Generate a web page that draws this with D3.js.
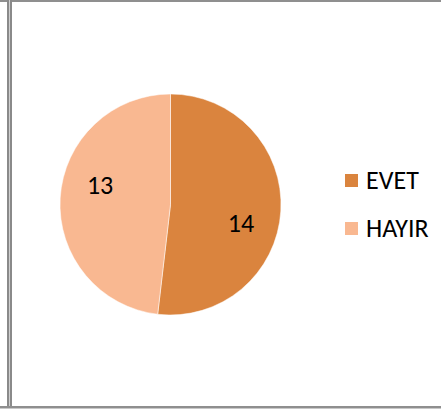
<!DOCTYPE html>
<html><head><meta charset="utf-8">
<script src="https://cdn.jsdelivr.net/npm/d3@7"></script>
<style>html,body{margin:0;padding:0;background:#fff;}svg{display:block;}</style>
</head><body>
<svg id="c" width="441" height="409"></svg>
<script>
const categories = ["EVET", "HAYIR"];
const values = [14, 13];
const colors = ["#DA843E", "#F9B891"];

const svg = d3.select("#c");
const W = 441, H = 409;
svg.append("rect").attr("width", W).attr("height", H).attr("fill", "#fff");

// frame lines
svg.append("rect").attr("x", 0).attr("y", 0).attr("width", W).attr("height", 2).attr("fill", "#8f8f8f");
svg.append("rect").attr("x", 7).attr("y", 0).attr("width", 2).attr("height", H).attr("fill", "#8a8a8a");
svg.append("rect").attr("x", 9).attr("y", 0).attr("width", 1).attr("height", H).attr("fill", "#cfcfcf");
svg.append("rect").attr("x", 10).attr("y", 0).attr("width", 2).attr("height", H).attr("fill", "#8a8a8a");
svg.append("rect").attr("x", 0).attr("y", 406).attr("width", W).attr("height", 2).attr("fill", "#8f8f8f");
svg.append("rect").attr("x", 0).attr("y", 408).attr("width", W).attr("height", 1).attr("fill", "#c8c8c8");

const cx = 170.5, cy = 204.5, r = 110.5;
const pie = d3.pie().sort(null).value(d => d)(values);
const arc = d3.arc().innerRadius(0).outerRadius(r);
const color = d3.scaleOrdinal().domain(categories).range(colors);

const g = svg.append("g").attr("transform", `translate(${cx},${cy})`);
g.selectAll("path").data(pie).join("path")
  .attr("d", arc)
  .attr("fill", (d, i) => color(categories[i]))
  .attr("stroke", "#fff").attr("stroke-width", 0.5);

const font = "Carlito, 'Liberation Sans', Arial, sans-serif";
const labelR = 73, labelShift = 12 * Math.PI / 180;
g.selectAll("text.lbl").data(pie).join("text")
  .attr("class", "lbl")
  .attr("x", d => labelR * Math.sin((d.startAngle + d.endAngle) / 2 + labelShift))
  .attr("y", d => -labelR * Math.cos((d.startAngle + d.endAngle) / 2 + labelShift) + 8.5)
  .attr("text-anchor", "middle")
  .attr("font-family", font)
  .attr("font-size", 26)
  .attr("fill", "#000")
  .text(d => d.data);

const legend = svg.append("g");
const ly = d3.scalePoint().domain(categories).range([181, 229]);
categories.forEach((c, i) => {
  legend.append("rect").attr("x", 345).attr("y", ly(c) - 7).attr("width", 13).attr("height", 13).attr("fill", color(c));
  legend.append("text").attr("x", 366).attr("y", ly(c) + 8)
    .attr("font-family", font)
    .attr("font-size", 26).attr("fill", "#000").text(c);
});
</script>
</body></html>
